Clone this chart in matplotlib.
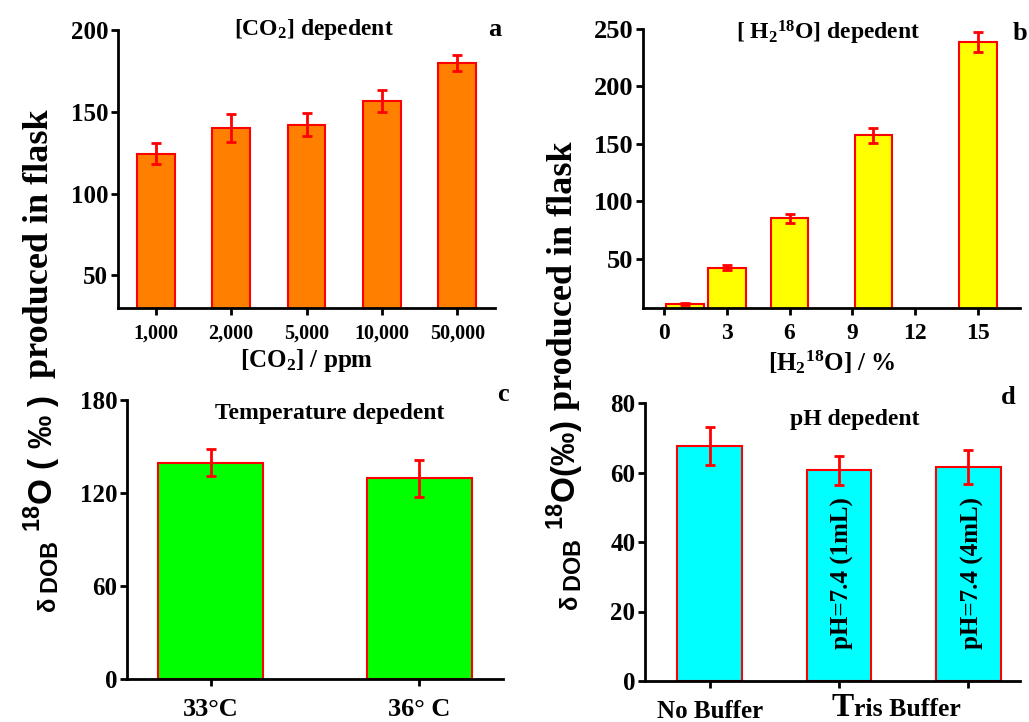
import numpy as np
import matplotlib
matplotlib.use("Agg")
import matplotlib.pyplot as plt

plt.rcParams["font.family"] = "Liberation Serif"
plt.rcParams["font.weight"] = "bold"
plt.rcParams["axes.labelweight"] = "bold"
plt.rcParams["mathtext.default"] = "regular"

# panel a: CO2 dependent
co2_labels = ["1,000", "2,000", "5,000", "10,000", "50,000"]
co2_vals = [124.4, 140.1, 142.1, 156.7, 179.7]
co2_err = [6.4, 8.5, 7.2, 6.7, 4.9]

# panel b: H2 18O dependent
h2o_x = [1, 3, 6, 10, 15]
h2o_vals = [10.2, 42.1, 85.2, 157.5, 238.7]
h2o_err = [1.0, 2.3, 4.0, 6.4, 8.7]
h2o_ticks = [0, 3, 6, 9, 12, 15]

# panel c: temperature dependent
temp_labels = ["33°C", "36° C"]
temp_vals = [139.6, 129.5]
temp_err = [8.5, 11.8]

# panel d: pH dependent
ph_vals = [67.7, 60.6, 61.6]
ph_err = [5.4, 4.2, 4.9]
ph_notes = ["", "pH=7.4 (1mL)", "pH=7.4 (4mL)"]

W, H = 1029, 722
fig = plt.figure(figsize=(W / 100, H / 100), dpi=100)


def add_ax(l, t, r, b):
    return fig.add_axes([l / W, 1 - b / H, (r - l) / W, (b - t) / H])


def style(ax, ysize, xsize, xpad=6):
    for s in ["top", "right"]:
        ax.spines[s].set_visible(False)
    for s in ["left", "bottom"]:
        ax.spines[s].set_linewidth(2)
    ax.tick_params(axis="both", width=2, length=5, direction="out")
    ax.tick_params(axis="y", labelsize=ysize, pad=2)
    ax.tick_params(axis="x", labelsize=xsize, pad=xpad)


err_kw = dict(fmt="none", ecolor="red", elinewidth=2, capsize=3.5, capthick=2)

# a
ax1 = add_ax(118, 30, 495, 308)
x = np.arange(len(co2_vals))
ax1.bar(x, co2_vals, 0.5, color="#ff8000", edgecolor="red", linewidth=1.5, zorder=2)
ax1.errorbar(x, co2_vals, yerr=co2_err, zorder=3, **err_kw)
ax1.set_xticks(x, co2_labels)
ax1.set_xlim(-0.5, 4.5)
ax1.set_ylim(30, 200)
ax1.set_yticks([50, 100, 150, 200])
ax1.set_xlabel("[CO$_2$] / ppm", fontsize=18, labelpad=3)
ax1.text(0.52, 1.0, "[CO$_2$] depedent", transform=ax1.transAxes,
         ha="center", va="center", fontsize=17)
ax1.text(1.0, 1.0, "a", transform=ax1.transAxes, ha="center", va="center", fontsize=19)
style(ax1, 18, 14.5)

# b
ax2 = add_ax(643, 29, 1020, 308)
ax2.bar(h2o_x, h2o_vals, 1.8, color="#ffff00", edgecolor="red", linewidth=1.5, zorder=2)
ax2.errorbar(h2o_x, h2o_vals, yerr=h2o_err, zorder=3, **err_kw)
ax2.set_xticks(h2o_ticks)
ax2.set_xlim(-1, 17)
ax2.set_ylim(7, 250)
ax2.set_yticks([50, 100, 150, 200, 250])
ax2.set_xlabel("[H$_2$$^{18}$O] / %", fontsize=18, labelpad=3)
ax2.text(0.49, 0.985, "[ H$_2$$^{18}$O] depedent", transform=ax2.transAxes,
         ha="center", va="center", fontsize=17)
ax2.text(1.0, 0.985, "b", transform=ax2.transAxes, ha="center", va="center", fontsize=19)
style(ax2, 19, 17)

# c
ax3 = add_ax(127, 400, 503, 679)
x = np.arange(len(temp_vals))
ax3.bar(x, temp_vals, 0.5, color="#00ff00", edgecolor="red", linewidth=1.5, zorder=2)
ax3.errorbar(x, temp_vals, yerr=temp_err, zorder=3, **err_kw)
ax3.set_xticks(x, temp_labels)
ax3.set_xlim(-0.4, 1.4)
ax3.set_ylim(0, 180)
ax3.set_yticks([0, 60, 120, 180])
ax3.text(0.54, 0.95, "Temperature depedent", transform=ax3.transAxes,
         ha="center", va="center", fontsize=17)
ax3.text(1.0, 1.02, "c", transform=ax3.transAxes, ha="center", va="center", fontsize=19)
style(ax3, 18, 19, xpad=9)

# d
ax4 = add_ax(645, 403, 1020, 681)
x = np.arange(len(ph_vals))
ax4.bar(x, ph_vals, 0.5, color="#00ffff", edgecolor="red", linewidth=1.5, zorder=2)
ax4.errorbar(x, ph_vals, yerr=ph_err, zorder=3, **err_kw)
ax4.set_xticks(x, ["No Buffer", "", ""])
ax4.set_xlim(-0.5, 2.4)
ax4.set_ylim(0, 80)
ax4.set_yticks([0, 20, 40, 60, 80])
for xi, note in zip(x, ph_notes):
    if note:
        ax4.text(xi + 0.03, 31, note, rotation=90, ha="center", va="center",
                 fontsize=18, zorder=4)
xt = ax4.get_xaxis_transform()
ax4.text(1.115, -0.125, "T", transform=xt, ha="right", va="baseline", fontsize=24)
ax4.text(1.115, -0.125, "ris Buffer", transform=xt, ha="left", va="baseline", fontsize=18.5)
ax4.text(0.56, 0.94, "pH depedent", transform=ax4.transAxes,
         ha="center", va="center", fontsize=17)
ax4.text(0.97, 1.02, "d", transform=ax4.transAxes, ha="center", va="center", fontsize=19)
style(ax4, 18, 18, xpad=9)

# shared y labels: serif part, sans part, and a smaller delta
sans = dict(family="Liberation Sans", weight="bold")
fig.text(40 / W, 1 - 378 / H, "produced in flask", rotation=90,
         ha="center", va="bottom", fontsize=26)
t_left = fig.text(42 / W, 1 - 395 / H, "$_{DOB}$ $^{18}$O ( ‰ )", rotation=90,
                  ha="center", va="top", fontsize=24, **sans)
fig.text(563 / W, 1 - 410 / H, "produced in flask", rotation=90,
         ha="center", va="bottom", fontsize=26)
t_right = fig.text(565 / W, 1 - 421 / H, "$_{DOB}$ $^{18}$O(‰)", rotation=90,
                   ha="center", va="top", fontsize=24, **sans)

fig.canvas.draw()
for t, xc in [(t_left, 48), (t_right, 571)]:
    bb = t.get_window_extent()
    fig.text(xc / W, (bb.y0 - 2) / H, "δ", rotation=90, ha="center", va="top",
             fontsize=17, **sans)

fig.savefig("out.png", dpi=100)
